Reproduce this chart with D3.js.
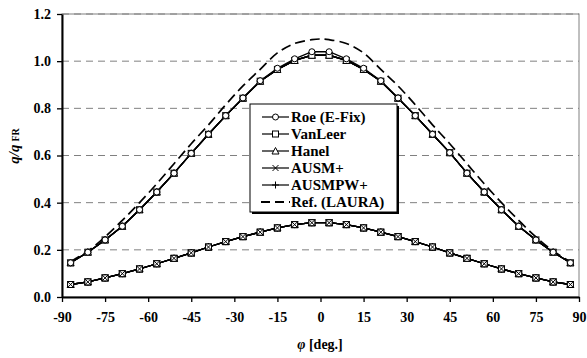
<!DOCTYPE html>
<html lang="en">
<head>
<meta charset="UTF-8">
<title>q/qFR vs phi</title>
<script src="https://d3js.org/d3.v7.min.js"></script>
<style>
    body { margin: 0; background: #fff; }
    svg { display: block; }
    text { font-family: "Liberation Serif", "Times New Roman", serif; font-weight: bold; fill: #000; }
    .tick text { font-size: 14px; }
</style>
</head>
<body>
<script>
    // angle stations (deg.)
    const phi = [-87, -81, -75, -69, -63, -57, -51, -45, -39, -33, -27, -21, -15, -9, -3,
                 3, 9, 15, 21, 27, 33, 39, 45, 51, 57, 63, 69, 75, 81, 87];

    // upper curve, Roe (E-Fix)
    const roeHigh = [0.145, 0.19, 0.242, 0.30, 0.37, 0.445, 0.525, 0.609, 0.69, 0.769, 0.844, 0.917, 0.970, 1.010, 1.040,
                     1.040, 1.010, 0.970, 0.917, 0.844, 0.769, 0.69, 0.612, 0.525, 0.445, 0.37, 0.30, 0.242, 0.19, 0.145];
    // upper curve, other schemes
    const otherHigh = [0.145, 0.19, 0.242, 0.30, 0.37, 0.445, 0.525, 0.609, 0.69, 0.769, 0.843, 0.915, 0.965, 1.003, 1.025,
                       1.025, 1.003, 0.965, 0.915, 0.843, 0.769, 0.69, 0.612, 0.525, 0.445, 0.37, 0.30, 0.242, 0.19, 0.145];
    // lower curve, all schemes
    const low = [0.053, 0.064, 0.081, 0.099, 0.119, 0.141, 0.164, 0.187, 0.212, 0.235, 0.256, 0.275, 0.293, 0.307, 0.315,
                 0.315, 0.307, 0.293, 0.275, 0.256, 0.235, 0.212, 0.187, 0.164, 0.141, 0.119, 0.099, 0.081, 0.064, 0.053];

    // reference solution (LAURA)
    const lauraPhi = [-87, -81, -75, -69, -63, -57, -51, -45, -39, -33, -27, -21, -15, -9, -3, 0,
                      3, 9, 15, 21, 27, 33, 39, 45, 51, 57, 63, 69, 75, 81, 87];
    const laura = [0.15, 0.195, 0.255, 0.325, 0.40, 0.48, 0.565, 0.65, 0.73, 0.815, 0.895, 0.965, 1.035, 1.075, 1.091, 1.094,
                   1.091, 1.075, 1.035, 0.965, 0.895, 0.815, 0.73, 0.65, 0.565, 0.48, 0.40, 0.325, 0.255, 0.195, 0.15];

    const schemes = ["Roe (E-Fix)", "VanLeer", "Hanel", "AUSM+", "AUSMPW+"];
    const markers = ["circle", "square", "triangle", "cross", "plus"];
    const xTicks = [-90, -75, -60, -45, -30, -15, 0, 15, 30, 45, 60, 75, 90];
    const yTicks = [0, 0.2, 0.4, 0.6, 0.8, 1.0, 1.2];

    const W = 587, H = 358;
    const svg = d3.select("body").append("svg").attr("width", W).attr("height", H);

    const x = d3.scaleLinear().domain([-90, 90]).range([62, 579]);
    const y = d3.scaleLinear().domain([0, 1.2]).range([297, 14]);

    // plot frame (grey)
    svg.append("rect")
        .attr("x", x(-90)).attr("y", y(1.2))
        .attr("width", x(90) - x(-90)).attr("height", y(0) - y(1.2))
        .attr("fill", "none").attr("stroke", "#808080").attr("stroke-width", 1);

    // dashed gridlines
    svg.append("g").selectAll("line")
        .data(yTicks.filter(d => d > 0))
        .enter().append("line")
        .attr("x1", x(-90)).attr("x2", x(90))
        .attr("y1", d => y(d)).attr("y2", d => y(d))
        .attr("stroke", "#808080").attr("stroke-width", 1)
        .attr("stroke-dasharray", "7,5");

    // axes
    const xAxis = svg.append("g")
        .attr("transform", `translate(0,${y(0)})`)
        .call(d3.axisBottom(x).tickValues(xTicks).tickFormat(d => String(d))
            .tickSize(5).tickSizeOuter(0).tickPadding(7));
    const yAxis = svg.append("g")
        .attr("transform", `translate(${x(-90)},0)`)
        .call(d3.axisLeft(y).tickValues(yTicks).tickFormat(d3.format(".1f")).tickSize(5).tickSizeOuter(0).tickPadding(6));
    [xAxis, yAxis].forEach(g => {
        g.select(".domain").attr("stroke", "#000").attr("stroke-width", 2);
        g.selectAll(".tick line").attr("stroke", "#000").attr("stroke-width", 1.3);
        g.selectAll(".tick text").attr("font-family", null).attr("font-size", null);
    });
    xAxis.selectAll(".tick text").attr("dy", "0.9em");

    // marker shapes
    function drawMarker(g, type, cx, cy) {
        const s = 3;
        const st = { stroke: "#000", "stroke-width": 1, fill: "#fff" };
        let el;
        if (type === "circle") {
            el = g.append("circle").attr("cx", cx).attr("cy", cy).attr("r", s);
        } else if (type === "square") {
            el = g.append("rect").attr("x", cx - s).attr("y", cy - s).attr("width", 2 * s).attr("height", 2 * s);
        } else if (type === "triangle") {
            el = g.append("path").attr("d", `M${cx},${cy - s - 0.5}L${cx + s + 0.5},${cy + s}L${cx - s - 0.5},${cy + s}Z`);
        } else if (type === "cross") {
            el = g.append("path").attr("d", `M${cx - s},${cy - s}L${cx + s},${cy + s}M${cx - s},${cy + s}L${cx + s},${cy - s}`);
        } else {
            el = g.append("path").attr("d", `M${cx - s - 0.5},${cy}L${cx + s + 0.5},${cy}M${cx},${cy - s - 0.5}L${cx},${cy + s + 0.5}`);
        }
        Object.entries(st).forEach(([k, v]) => el.attr(k, v));
    }

    const line = d3.line().x(d => x(d[0])).y(d => y(d[1]));

    // reference LAURA, dashed
    svg.append("path")
        .datum(lauraPhi.map((p, i) => [p, laura[i]]))
        .attr("d", line.curve(d3.curveCatmullRom))
        .attr("fill", "none").attr("stroke", "#000").attr("stroke-width", 1.7)
        .attr("stroke-dasharray", "10,5");
    line.curve(d3.curveLinear);

    // scheme curves: draw others first, Roe last on top
    const order = [4, 3, 2, 1, 0];
    order.forEach(k => {
        const high = k === 0 ? roeHigh : otherHigh;
        [high, low].forEach(vals => {
            const pts = phi.map((p, i) => [p, vals[i]]);
            svg.append("path").datum(pts).attr("d", line)
                .attr("fill", "none").attr("stroke", "#000").attr("stroke-width", 1.3);
        });
    });
    order.forEach(k => {
        const high = k === 0 ? roeHigh : otherHigh;
        const g = svg.append("g");
        [high, low].forEach(vals => {
            phi.forEach((p, i) => drawMarker(g, markers[k], x(p), y(vals[i])));
        });
    });
    // squares visible on lower curve
    const gl = svg.append("g");
    phi.forEach((p, i) => drawMarker(gl, "square", x(p), y(low[i])));
    phi.forEach((p, i) => drawMarker(gl, "cross", x(p), y(low[i])));

    // legend
    const lg = svg.append("g").attr("transform", "translate(250,104)");
    const lw = 147, lh = 108;
    lg.append("rect").attr("x", 2).attr("y", 2).attr("width", lw).attr("height", lh).attr("fill", "#000");
    lg.append("rect").attr("width", lw).attr("height", lh).attr("fill", "#fff").attr("stroke", "#000").attr("stroke-width", 1);
    const labels = schemes.concat(["Ref. (LAURA)"]);
    labels.forEach((lab, i) => {
        const cy = 13 + i * 17;
        const row = lg.append("g");
        if (i < 5) {
            row.append("line").attr("x1", 12).attr("x2", 39).attr("y1", cy).attr("y2", cy)
                .attr("stroke", "#000").attr("stroke-width", 1.2);
            drawMarker(row, markers[i], 25.5, cy);
        } else {
            row.append("line").attr("x1", 11).attr("x2", 40).attr("y1", cy).attr("y2", cy)
                .attr("stroke", "#000").attr("stroke-width", 2).attr("stroke-dasharray", "9,5");
        }
        row.append("text").attr("x", 41).attr("y", cy).attr("dy", "0.35em")
            .attr("font-size", 15).text(lab);
    });

    // axis titles
    const xt = svg.append("text").attr("x", 320).attr("y", 349)
        .attr("text-anchor", "middle").attr("font-size", 14);
    xt.append("tspan").attr("font-style", "italic").text("φ");
    xt.append("tspan").text(" [deg.]");

    const yt = svg.append("text")
        .attr("transform", "translate(19,146) rotate(-90)")
        .attr("text-anchor", "middle").attr("font-size", 15);
    yt.append("tspan").attr("font-style", "italic").text("q/q");
    yt.append("tspan").attr("font-size", 10).attr("dx", 3).text("FR");
</script>
</body>
</html>
